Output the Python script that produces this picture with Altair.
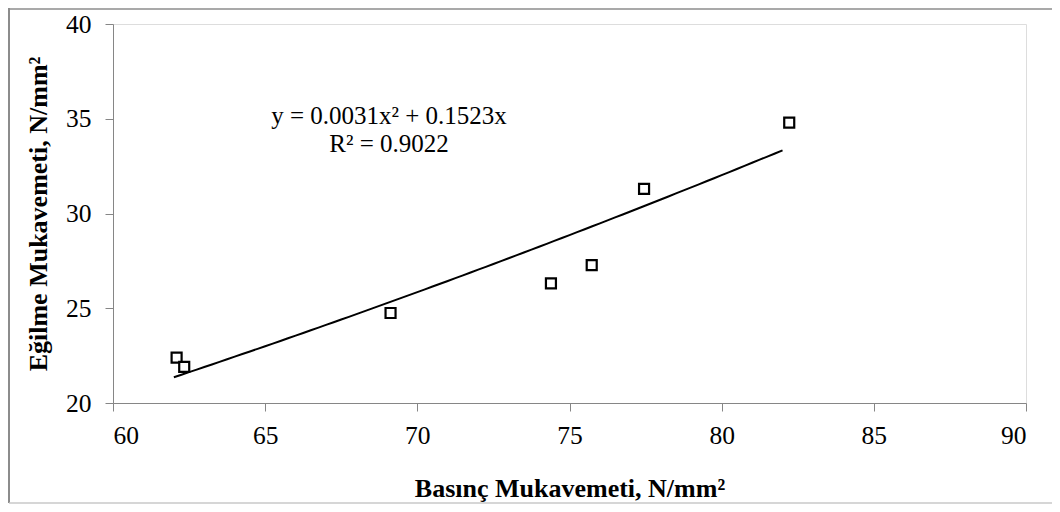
import altair as alt
import pandas as pd

# Data
basinc = [62.09, 62.34, 69.12, 74.39, 75.73, 77.45, 82.22]
egilme = [22.39, 21.91, 24.75, 26.31, 27.28, 31.30, 34.80]

# Trendline (as shown on chart): y = a*x^2 + b*x
coef_a = 0.0031
coef_b = 0.1523
trend_start = 62.0
trend_stop = 82.25

eq_lines = ["y = 0.0031x² + 0.1523x", "R² = 0.9022"]

x_ticks = [60, 65, 70, 75, 80, 85, 90]
y_ticks = [20, 25, 30, 35, 40]

FONT = "Liberation Serif"
W, H = 913, 379

df = pd.DataFrame({"x": basinc, "y": egilme})

xscale = alt.Scale(domain=[60, 90], nice=False, zero=False)
yscale = alt.Scale(domain=[20, 40], nice=False, zero=False)

xaxis = alt.Axis(values=x_ticks, title="Basınç Mukavemeti, N/mm²", grid=False,
                 domainColor="#868686", tickColor="#868686", tickSize=8,
                 labelFont=FONT, labelFontSize=25.5, labelColor="black", labelPadding=12,
                 titleFont=FONT, titleFontSize=26, titleFontWeight="bold", titleColor="black",
                 titlePadding=27)
yaxis = alt.Axis(values=y_ticks, title="Eğilme Mukavemeti, N/mm²", grid=False,
                 domainColor="#868686", tickColor="#868686", tickSize=8,
                 labelFont=FONT, labelFontSize=25.5, labelColor="black", labelPadding=14,
                 titleFont=FONT, titleFontSize=26, titleFontWeight="bold", titleColor="black",
                 titlePadding=14)

points = alt.Chart(df).mark_square(size=100, filled=False, stroke="black",
                                   strokeWidth=2.2, fill="white", fillOpacity=1).encode(
    x=alt.X("x:Q", scale=xscale, axis=xaxis),
    y=alt.Y("y:Q", scale=yscale, axis=yaxis),
)

trend = alt.Chart(alt.sequence(start=trend_start, stop=trend_stop, step=0.25, as_="x")).transform_calculate(
    y=f"{coef_a}*datum.x*datum.x + {coef_b}*datum.x"
).mark_line(color="black", strokeWidth=2).encode(
    x=alt.X("x:Q", scale=xscale),
    y=alt.Y("y:Q", scale=yscale),
)

eq = alt.Chart(pd.DataFrame({"d": [0]})).mark_text(
    text=eq_lines, lineHeight=28,
    font=FONT, fontSize=25, color="black", align="center", baseline="middle"
).encode(x=alt.value(276), y=alt.value(92))

frame_color = "#8c8c8c"
frame_left = alt.Chart(pd.DataFrame({"d": [0]})).mark_rule(color=frame_color, strokeWidth=2).encode(
    x=alt.value(-104), y=alt.value(-16), y2=alt.value(479))
frame_top = alt.Chart(pd.DataFrame({"d": [0]})).mark_rule(color=frame_color, strokeWidth=1.5).encode(
    x=alt.value(-104), x2=alt.value(W + 26), y=alt.value(-15))
frame_bottom = alt.Chart(pd.DataFrame({"d": [0]})).mark_rule(color="#c8c8c8", strokeWidth=1.5).encode(
    x=alt.value(-104), x2=alt.value(W + 26), y=alt.value(479))

chart = alt.layer(frame_left, frame_top, frame_bottom, trend, points, eq).properties(
    width=W, height=H,
    autosize=alt.AutoSizeParams(type="none"),
    padding={"left": 105, "top": 16, "right": 26, "bottom": 101},
).configure_view(stroke=None).configure(background="white")

chart.save("out.html", embed_options={"renderer": "svg", "actions": False})
